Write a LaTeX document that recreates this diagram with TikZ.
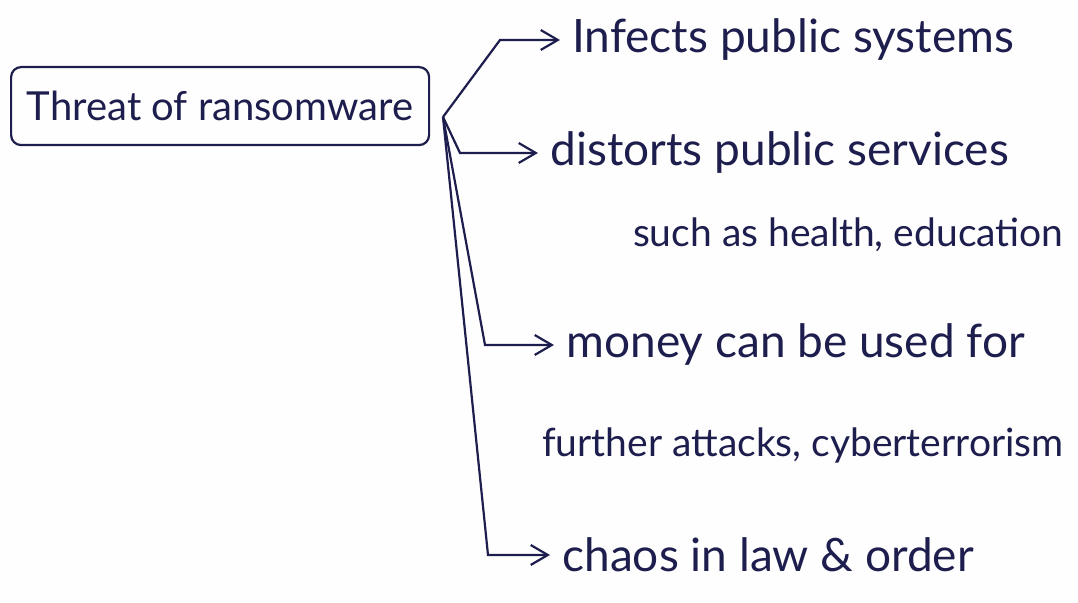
\documentclass[tikz,border=0pt]{standalone}
\usepackage{fontspec}
\setmainfont{Lato}
\usepackage{xcolor}
\usetikzlibrary{arrows.meta,positioning,calc}
\definecolor{ink}{HTML}{1E1E4E}
\definecolor{paper}{HTML}{FEFEFE}
\tikzset{
  topic/.style={
    draw=ink,line width=1.1pt,rounded corners=5pt,
    minimum width=209pt,minimum height=39pt,
    text=ink,font=\fontsize{20}{24}\selectfont,inner sep=3pt
  },
  point/.style={
    anchor=west,inner sep=3pt,text=ink,
    font=\fontsize{23}{27}\selectfont
  },
  note/.style={
    inner sep=3pt,text=ink,
    font=\fontsize{19.5}{23}\selectfont
  },
  arrow/.style={-{Straight Barb[length=3mm,width=3.5mm]},draw=ink,
    line width=1.1pt,shorten >=3pt}
}

\begin{document}
\begin{tikzpicture}[x=0.5pt,y=-0.5pt]
\useasboundingbox[fill=paper] (0,0) rectangle (1078,603);

\node[topic,anchor=north west] (thr) at (10,66) {Threat of ransomware};
\coordinate (hub) at (443,117);

\node[point] (inf) at (566,40) {Infects public systems};
\node[point] (dis) at (544,153) {distorts public services};
\node[note,anchor=east] (ex) at (1070,235) {such as health, education};
\node[point] (mon) at (560,345) {money can be used for};
\node[note,anchor=east] (fur) at (1070,445) {further attacks, cyberterrorism};
\node[point] (cha) at (556,555) {chaos in law \& order};

% bend points of the branches
\coordinate (k1) at (500,0);
\coordinate (k2) at (460,0);
\coordinate (k3) at (485,0);
\coordinate (k4) at (488,0);

\draw[arrow] (hub) -- (k1 |- inf.west) -- (inf.west);
\draw[arrow] (hub) -- (k2 |- dis.west) -- (dis.west);
\draw[arrow] (hub) -- (k3 |- mon.west) -- (mon.west);
\draw[arrow] (hub) -- (k4 |- cha.west) -- (cha.west);
\end{tikzpicture}
\end{document}
